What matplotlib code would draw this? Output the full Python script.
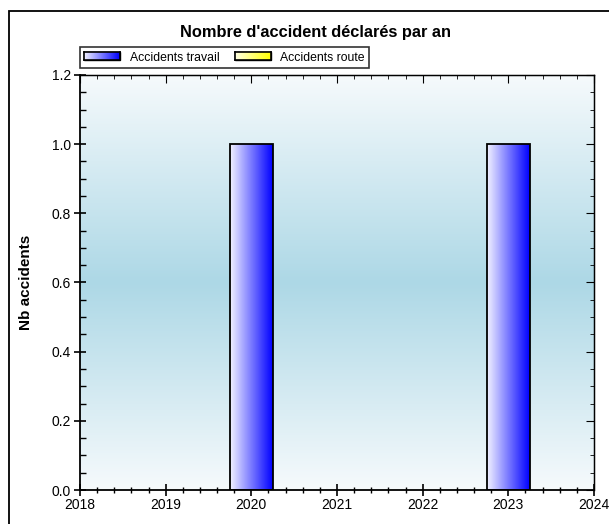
import matplotlib
matplotlib.use("Agg")
import matplotlib.pyplot as plt
import numpy as np
from matplotlib.colors import LinearSegmentedColormap
from matplotlib.patches import Rectangle, Patch
from matplotlib.ticker import MultipleLocator, FormatStrFormatter

plt.rcParams['font.family'] = ['Liberation Sans', 'DejaVu Sans']

# données
annees = [2019, 2020, 2021, 2022, 2023]
accidents_travail = [0, 1, 0, 0, 1]
accidents_route = [0, 0, 0, 0, 0]
titre = "Nombre d'accident déclarés par an"
label_y = "Nb accidents"
series = ["Accidents travail", "Accidents route"]
x_min, x_max = 2018, 2024
y_max = 1.2

cmap_travail = LinearSegmentedColormap.from_list("travail", ["#f2f2ff", "#0000ff"])
cmap_route = LinearSegmentedColormap.from_list("route", ["#ffffe6", "#ffff00"])
cmap_fond = LinearSegmentedColormap.from_list("fond", ["#f6fafc", "#add8e6", "#f6fafc"])
grad_h = np.linspace(0, 1, 256).reshape(1, -1)
grad_v = np.linspace(0, 1, 256).reshape(-1, 1)

fig = plt.figure(figsize=(6.09, 5.24), dpi=100)
ax = fig.add_axes([80 / 609, 1 - 490 / 524, 514 / 609, 415 / 524])

# fond dégradé
ax.imshow(grad_v, extent=[x_min, x_max, 0, y_max], aspect='auto', cmap=cmap_fond,
          zorder=0, origin='lower')

# barres avec dégradé horizontal
largeur = 0.5
for valeurs, cmap in [(accidents_travail, cmap_travail), (accidents_route, cmap_route)]:
    for x, h in zip(annees, valeurs):
        if h <= 0:
            continue
        b = ax.bar(x, h, width=largeur, facecolor='none', edgecolor='black',
                   linewidth=1.3, zorder=3)[0]
        im = ax.imshow(grad_h, extent=[x - largeur / 2, x + largeur / 2, 0, h],
                       aspect='auto', cmap=cmap, zorder=2)
        im.set_clip_path(b)

ax.set_xlim(x_min, x_max)
ax.set_ylim(0, y_max)
ax.set_aspect('auto')

ax.xaxis.set_major_locator(MultipleLocator(1))
ax.xaxis.set_minor_locator(MultipleLocator(0.2))
ax.yaxis.set_major_locator(MultipleLocator(0.2))
ax.yaxis.set_minor_locator(MultipleLocator(0.05))
ax.yaxis.set_major_formatter(FormatStrFormatter('%.1f'))

ax.tick_params(axis='x', which='major', direction='inout', length=9, width=1.2,
               labelsize=10, pad=1)
ax.tick_params(axis='x', which='minor', direction='inout', length=5, width=1)
ax.tick_params(axis='y', which='major', direction='inout', length=9, width=1.2,
               labelsize=10, pad=2)
ax.tick_params(axis='y', which='minor', direction='in', length=4, width=1)
for s in ax.spines.values():
    s.set_linewidth(1)
ax.spines['left'].set_linewidth(1.3)
ax.spines['bottom'].set_linewidth(1.3)

# ticks du haut et de droite (vers l'intérieur)
haut = ax.secondary_xaxis('top')
haut.xaxis.set_major_locator(MultipleLocator(1))
haut.xaxis.set_minor_locator(MultipleLocator(0.2))
haut.tick_params(which='major', direction='in', length=6, labeltop=False)
haut.tick_params(which='minor', direction='in', length=3)
droite = ax.secondary_yaxis('right')
droite.yaxis.set_major_locator(MultipleLocator(0.2))
droite.yaxis.set_minor_locator(MultipleLocator(0.05))
droite.tick_params(which='major', direction='in', length=6, labelright=False)
droite.tick_params(which='minor', direction='in', length=3)

ax.set_ylabel(label_y, fontsize=11, fontweight='bold')
ax.yaxis.set_label_coords(-0.092, 0.5)

fig.text(315 / 609, 1 - 33 / 524, titre, ha='center', va='center',
         fontsize=11.8, fontweight='bold')

# légende
handles = [Patch(facecolor='none', edgecolor='black', label=series[0]),
           Patch(facecolor='none', edgecolor='black', label=series[1])]
leg = ax.legend(handles=handles, loc='lower left', bbox_to_anchor=(0, 1.017),
                ncol=2, fontsize=8.8, frameon=True, fancybox=False, borderaxespad=0,
                handlelength=2.9, handleheight=0.6, handletextpad=0.8,
                columnspacing=1.3, borderpad=0.35)
leg.get_frame().set_edgecolor('black')
leg.get_frame().set_linewidth(1.2)

# cadre extérieur
fig.add_artist(Rectangle((9 / 609, -0.1), 1.0, 1 - 11 / 524 + 0.1,
                         transform=fig.transFigure, fill=False, linewidth=1.3,
                         edgecolor='black'))

fig.canvas.draw()
renderer = fig.canvas.get_renderer()
for patch, cmap in zip(leg.get_patches(), [cmap_travail, cmap_route]):
    bb = patch.get_window_extent(renderer).transformed(fig.transFigure.inverted())
    hax = fig.add_axes([bb.x0, bb.y0, bb.width, bb.height])
    hax.imshow(grad_h, aspect='auto', cmap=cmap)
    hax.set_xticks([])
    hax.set_yticks([])
    for s in hax.spines.values():
        s.set_linewidth(1.2)

fig.savefig("out.png", dpi=100)
